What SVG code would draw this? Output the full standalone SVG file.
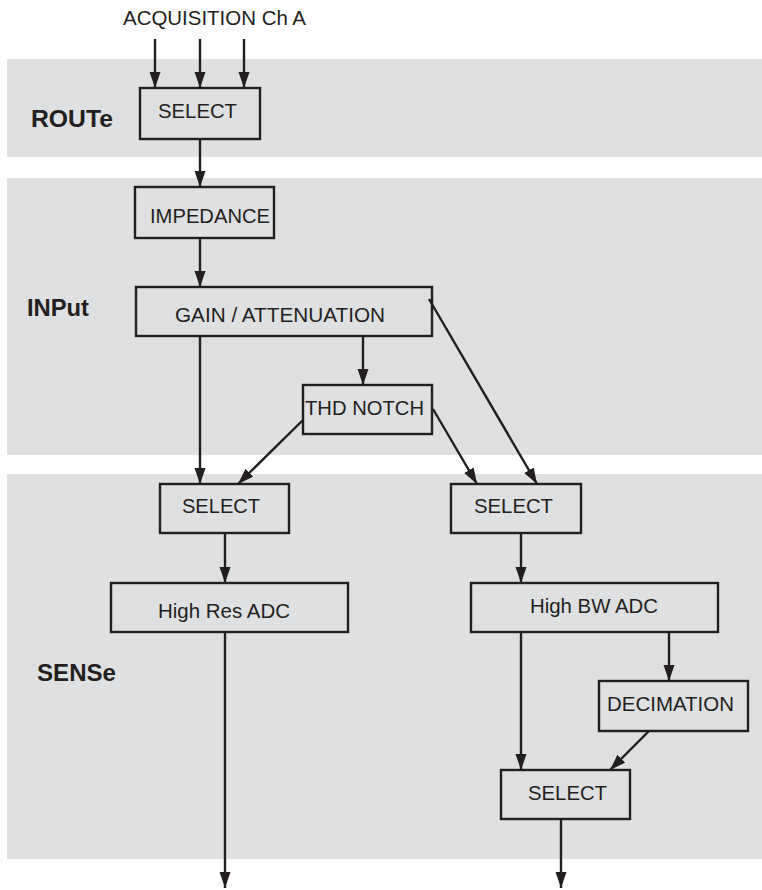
<svg xmlns="http://www.w3.org/2000/svg" width="762" height="890" viewBox="0 0 762 890">
<defs>
<style>
.band{fill:#dfe0e2;stroke:none}
.box{fill:none;stroke:#231f20;stroke-width:2.4}
.t{font-family:"Liberation Sans",Arial,sans-serif;font-size:21px;fill:#231f20}
.lbl{font-family:"Liberation Sans",Arial,sans-serif;font-size:23px;font-weight:bold;fill:#231f20}
.c{stroke:#231f20;stroke-width:2.4;fill:none;marker-end:url(#ah)}
</style>
<marker id="ah" markerUnits="userSpaceOnUse" markerWidth="17" markerHeight="12" refX="16" refY="5.5" orient="auto">
<path d="M0,0 L16,5.5 L0,11 z" fill="#231f20"/>
</marker>
</defs>
<g id="bands">
<rect class="band" x="7" y="59" width="755" height="98"/>
<rect class="band" x="7" y="178" width="755" height="277"/>
<rect class="band" x="7" y="474" width="755" height="385"/>
<text class="lbl" x="31" y="127" textLength="82" lengthAdjust="spacingAndGlyphs">ROUTe</text>
<text class="lbl" x="27" y="316" textLength="62" lengthAdjust="spacingAndGlyphs">INPut</text>
<text class="lbl" x="37" y="681" textLength="79" lengthAdjust="spacingAndGlyphs">SENSe</text>
</g>
<text class="t" x="123" y="25" textLength="183" lengthAdjust="spacingAndGlyphs">ACQUISITION Ch A</text>
<g id="route_select"><rect class="box" x="140" y="88" width="120" height="51"/><text class="t" x="158" y="118" textLength="79" lengthAdjust="spacingAndGlyphs">SELECT</text></g>
<g id="impedance"><rect class="box" x="135" y="187" width="139" height="51"/><text class="t" x="150" y="223" textLength="120" lengthAdjust="spacingAndGlyphs">IMPEDANCE</text></g>
<g id="gain"><rect class="box" x="136" y="287" width="296" height="49"/><text class="t" x="175" y="322" textLength="210" lengthAdjust="spacingAndGlyphs">GAIN / ATTENUATION</text></g>
<g id="thd"><rect class="box" x="303" y="385" width="129" height="49"/><text class="t" x="305" y="415" textLength="119" lengthAdjust="spacingAndGlyphs">THD NOTCH</text></g>
<g id="select_left"><rect class="box" x="160" y="484" width="129" height="49"/><text class="t" x="182" y="513" textLength="78" lengthAdjust="spacingAndGlyphs">SELECT</text></g>
<g id="select_right"><rect class="box" x="451" y="484" width="130" height="49"/><text class="t" x="474" y="513" textLength="79" lengthAdjust="spacingAndGlyphs">SELECT</text></g>
<g id="highres"><rect class="box" x="111" y="583" width="237" height="49"/><text class="t" x="158" y="618" textLength="132" lengthAdjust="spacingAndGlyphs">High Res ADC</text></g>
<g id="highbw"><rect class="box" x="471" y="583" width="247" height="49"/><text class="t" x="530" y="613" textLength="128" lengthAdjust="spacingAndGlyphs">High BW ADC</text></g>
<g id="decimation"><rect class="box" x="599" y="681" width="149" height="50"/><text class="t" x="607" y="711" textLength="127" lengthAdjust="spacingAndGlyphs">DECIMATION</text></g>
<g id="select_bottom"><rect class="box" x="501" y="770" width="129" height="49"/><text class="t" x="528" y="800" textLength="79" lengthAdjust="spacingAndGlyphs">SELECT</text></g>
<g id="connectors">
<line class="c" x1="155" y1="39" x2="155" y2="88"/>
<line class="c" x1="200" y1="39" x2="200" y2="88"/>
<line class="c" x1="244" y1="39" x2="244" y2="88"/>
<line class="c" x1="200" y1="139" x2="200" y2="187"/>
<line class="c" x1="200" y1="238" x2="200" y2="287"/>
<line class="c" x1="200" y1="336" x2="200" y2="484"/>
<line class="c" x1="363" y1="336" x2="363" y2="385"/>
<line class="c" x1="303" y1="420" x2="238" y2="484"/>
<line class="c" x1="433" y1="409" x2="477" y2="484"/>
<line class="c" x1="429" y1="299" x2="537" y2="484"/>
<line class="c" x1="225" y1="533" x2="225" y2="583"/>
<line class="c" x1="225" y1="632" x2="225" y2="888"/>
<line class="c" x1="521" y1="533" x2="521" y2="583"/>
<line class="c" x1="521" y1="632" x2="521" y2="770"/>
<line class="c" x1="669" y1="632" x2="669" y2="681"/>
<line class="c" x1="649" y1="731" x2="610" y2="770"/>
<line class="c" x1="561" y1="819" x2="561" y2="888"/>
</g>
</svg>
